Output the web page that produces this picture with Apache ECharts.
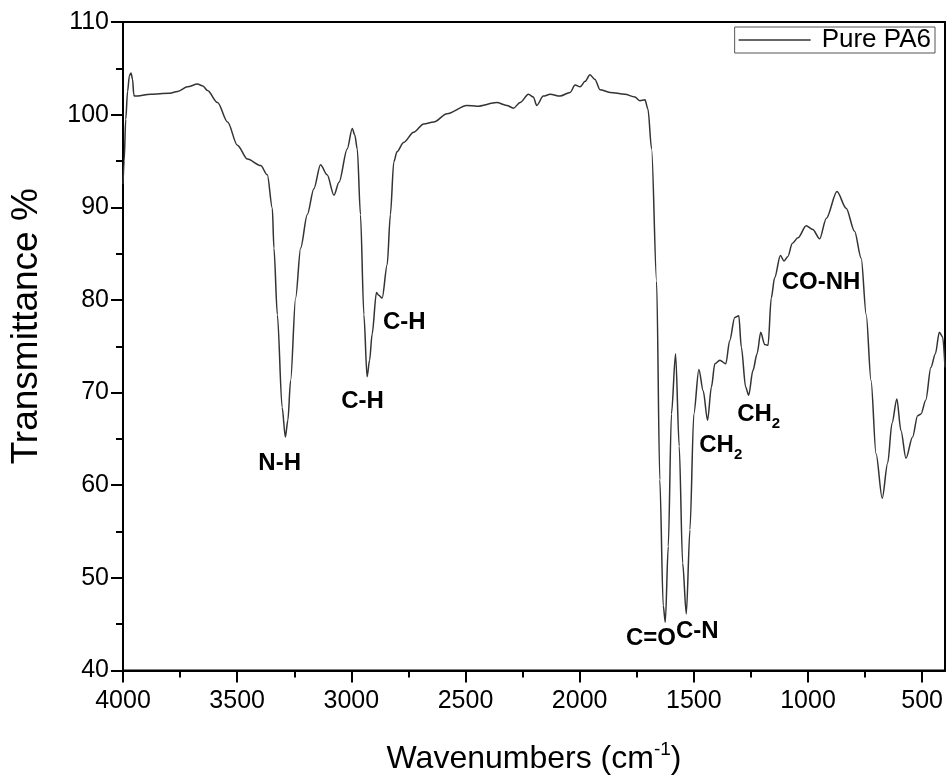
<!DOCTYPE html>
<html>
<head>
<meta charset="utf-8">
<script src="https://cdn.jsdelivr.net/npm/echarts@6/dist/echarts.min.js"></script>
<style>html,body{margin:0;padding:0;background:#fff;}#c{width:949px;height:780px;}</style>
</head>
<body>
<div id="c"></div>
<script>
// Wavenumber (cm-1) and transmittance (%)
var wavenumbers = [4000,3995,3988,3980,3972,3965,3958,3953,3950,3878,3800,3761,3717,3674,3650,3630,3586,3542,3499,3455,3397,3368,3346,3339,3324,3303,3289,3278,3266,3244,3222,3193,3164,3135,3106,3076,3054,3018,2996,2985,2974,2960,2945,2931,2920,2909,2890,2880,2865,2843,2829,2814,2800,2771,2727,2683,2639,2581,2494,2450,2363,2319,2290,2261,2224,2203,2188,2159,2129,2086,2042,2020,1998,1976,1955,1933,1911,1867,1802,1758,1736,1714,1701,1685,1663,1649,1634,1625,1612,1598,1580,1564,1549,1533,1517,1500,1478,1459,1440,1423,1408,1386,1360,1343,1321,1303,1292,1273,1260,1241,1223,1207,1190,1175,1161,1146,1121,1105,1088,1069,1044,1008,979,949,920,873,833,796,767,745,724,702,675,651,632,611,593,571,542,520,505,484,462,442,425,410,400];
var transmittance = [92.5,95.0,99.5,102.5,104.2,104.5,103.8,102.2,102.0,102.2,102.3,102.5,103.0,103.3,103.1,102.6,101.3,99.2,96.7,95.2,94.5,93.5,89.9,85.6,78.4,68.4,65.2,67.0,71.3,80.2,85.6,89.2,92.0,94.6,93.5,91.3,92.7,96.3,98.5,97.8,96.3,89.2,78.4,71.7,73.5,76.3,80.8,80.5,80.2,83.8,89.2,94.9,96.0,97.0,98.1,99.0,99.2,100.1,101.0,100.9,101.3,101.0,100.7,101.3,102.2,101.9,101.0,102.0,102.2,102.0,102.4,103.2,103.0,103.6,104.3,103.8,102.7,102.4,102.2,101.9,101.5,101.6,100.6,96.3,82.0,60.6,47.0,45.2,53.4,67.7,74.2,64.2,51.6,46.1,55.2,67.7,72.5,70.2,67.0,70.6,73.1,73.5,73.1,75.6,78.1,78.3,74.9,70.6,69.7,72.4,74.2,76.5,75.2,75.1,80.2,82.4,84.8,84.2,84.7,86.1,86.7,88.0,87.6,86.6,88.8,91.7,89.9,87.4,84.5,78.4,71.3,63.4,58.6,62.4,66.7,69.3,65.9,62.9,65.2,67.5,67.7,69.2,72.7,74.2,76.5,76.0,72.7];
var seriesName = 'Pure PA6';
var xMajorTicks = [4000,3500,3000,2500,2000,1500,1000,500];
var xMinorTicks = [3750,3250,2750,2250,1750,1250,750];
// Peak assignments: label text and the (wavenumber, transmittance) spot where each label sits
var annotLabels = ['N-H','C-H','C-H','C=O','C-N','{a|CH}{s|2}','{a|CH}{s|2}','CO-NH'];
var annotWn = [3314,2951,2768,1688,1485,1382,1216,943];
var annotT = [62.4,69.1,77.6,43.5,44.2,64.3,67.6,81.9];

var data = wavenumbers.map(function (w, i) { return [w, transmittance[i]]; });
var marks = annotLabels.map(function (t, i) { return { coord: [annotWn[i], annotT[i]], value: t }; });

var font = '"Liberation Sans", Arial, sans-serif';
var chart = echarts.init(document.getElementById('c'));
chart.setOption({
  animation: false,
  backgroundColor: '#fff',
  textStyle: { fontFamily: font },
  grid: { left: 122, right: 4, top: 22, bottom: 107, show: true, borderColor: '#000', borderWidth: 2, backgroundColor: 'transparent' },
  legend: {
    right: 14, top: 27, padding: [0, 4, 0, 4], itemGap: 0,
    borderColor: '#555', borderWidth: 1, itemWidth: 72, itemHeight: 1.5, icon: 'rect',
    itemStyle: { color: '#333' },
    textStyle: { fontSize: 26, lineHeight: 23, color: '#000', fontFamily: font, padding: [0, 0, 0, 6] },
    data: [seriesName]
  },
  xAxis: [{
    type: 'value', inverse: true, min: 400, max: 4000, position: 'bottom',
    name: 'Wavenumbers (cm{sup|-1})', nameLocation: 'middle', nameGap: 70,
    nameTextStyle: { fontSize: 32, color: '#000', fontFamily: font, rich: { sup: { fontSize: 19, color: '#000', fontFamily: font, padding: [0, 0, 18, 0] } } },
    axisLine: { show: true, lineStyle: { color: '#000', width: 2 } },
    axisTick: { show: true, customValues: xMajorTicks, length: 12, lineStyle: { color: '#000', width: 2 } },
    axisLabel: { show: true, customValues: xMajorTicks, fontSize: 25, color: '#000', margin: 18, fontFamily: font,
      formatter: function (v) { return String(v); } },
    splitLine: { show: false }
  }, {
    type: 'value', inverse: true, min: 400, max: 4000, position: 'bottom', gridIndex: 0,
    axisLine: { show: false },
    axisTick: { show: true, customValues: xMinorTicks, length: 7, lineStyle: { color: '#000', width: 2 } },
    axisLabel: { show: false },
    splitLine: { show: false }
  }],
  yAxis: {
    type: 'value', min: 40, max: 110, interval: 10,
    name: 'Transmittance %', nameLocation: 'middle', nameGap: 78,
    nameTextStyle: { fontSize: 37, color: '#000', fontFamily: font, padding: [0, 0, 0, 40] },
    axisLine: { show: true, lineStyle: { color: '#000', width: 2 } },
    axisTick: { show: true, length: 12, lineStyle: { color: '#000', width: 2 } },
    minorTick: { show: true, splitNumber: 2, length: 7, lineStyle: { color: '#000', width: 2 } },
    axisLabel: { fontSize: 25, color: '#000', margin: 14, fontFamily: font },
    splitLine: { show: false }, minorSplitLine: { show: false }
  },
  series: [{
    name: seriesName, type: 'line', data: data, symbol: 'none', showSymbol: false,
    smooth: 0.3, smoothMonotone: 'x',
    lineStyle: { color: '#333', width: 1.5 }, itemStyle: { color: '#333' },
    markPoint: {
      symbol: 'circle', symbolSize: 0, silent: true,
      label: {
        show: true, position: 'inside', color: '#000', fontSize: 24, fontWeight: 'bold', fontFamily: font,
        formatter: function (p) { return p.value; },
        rich: {
          a: { fontSize: 24, fontWeight: 'bold', color: '#000', fontFamily: font },
          s: { fontSize: 15, fontWeight: 'bold', color: '#000', fontFamily: font, padding: [18, 0, 0, 0] }
        }
      },
      data: marks
    }
  }]
});
</script>
</body>
</html>
